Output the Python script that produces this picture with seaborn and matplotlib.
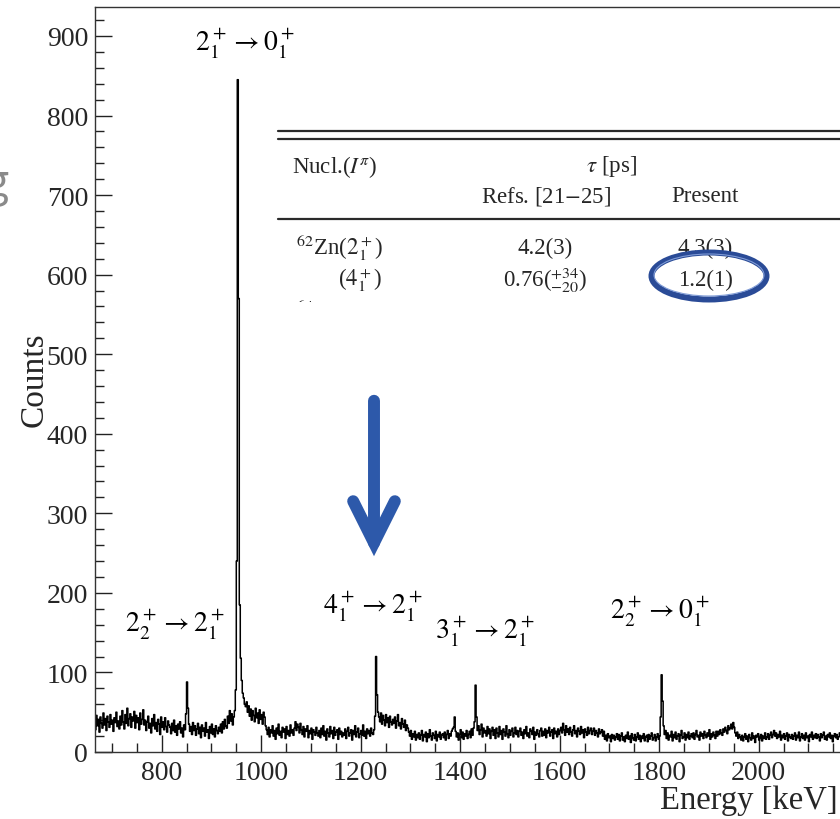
import numpy as np
import pandas as pd
import matplotlib
matplotlib.use("Agg")
import matplotlib.pyplot as plt
import seaborn as sns
from matplotlib.patches import Rectangle, Ellipse, FancyArrowPatch
from matplotlib.lines import Line2D
from matplotlib.ticker import MultipleLocator
from matplotlib.transforms import Bbox, TransformedBbox

# ---------------- data ----------------
bin_width_keV = 2
first_bin_center = 667
# counts per 2 keV bin, one row = 50 keV (25 bins), starting at 666 keV
counts = [
    28, 46, 33, 41, 25, 44, 36, 30, 49, 34, 42, 27, 45, 38, 31, 47, 35, 40, 26, 43, 37, 50, 32, 39, 29,
    45, 34, 52, 38, 29, 47, 36, 55, 33, 42, 48, 31, 44, 39, 51, 30, 46, 37, 43, 28, 49, 35, 41, 53, 34,
    40, 27, 38, 45, 30, 36, 24, 42, 33, 47, 29, 37, 26, 41, 35, 22, 44, 31, 38, 28, 43, 32, 25, 39, 34,
    31, 23, 36, 27, 40, 25, 33, 21, 35, 29, 38, 24, 30, 19, 34, 28, 48, 88, 55, 35, 26, 32, 22, 37, 27,
    33, 21, 29, 36, 23, 31, 18, 34, 26, 30, 20, 37, 25, 28, 17, 32, 24, 35, 22, 29, 19, 33, 27, 23, 31,
    26, 35, 24, 38, 29, 41, 33, 30, 45, 36, 52, 39, 48, 34, 44, 52, 78, 240, 845, 570, 185, 118, 90, 74, 68,
    60, 57, 63, 50, 58, 45, 54, 40, 52, 46, 38, 55, 43, 49, 36, 53, 41, 47, 35, 50, 44, 33, 28, 22, 31,
    19, 28, 24, 33, 20, 27, 16, 30, 23, 35, 21, 26, 18, 31, 25, 29, 17, 32, 22, 27, 20, 34, 24, 28, 21,
    30, 38, 27, 35, 31, 24, 36, 28, 22, 32, 19, 29, 26, 33, 18, 27, 23, 30, 16, 28, 25, 21, 31, 24, 20,
    27, 18, 30, 22, 33, 20, 26, 15, 29, 24, 19, 32, 23, 27, 17, 31, 21, 25, 28, 16, 30, 22, 26, 19, 24,
    21, 29, 17, 26, 31, 20, 24, 28, 15, 27, 22, 33, 19, 25, 30, 18, 23, 27, 21, 34, 20, 26, 17, 29, 23,
    27, 20, 30, 24, 22, 28, 45, 120, 72, 50, 44, 38, 49, 35, 46, 40, 33, 47, 37, 43, 31, 45, 38, 34, 41,
    36, 44, 30, 39, 47, 33, 37, 29, 42, 35, 31, 40, 27, 34, 30, 25, 20, 27, 16, 23, 19, 26, 15, 22, 18,
    24, 16, 21, 27, 14, 22, 19, 25, 13, 23, 18, 28, 20, 15, 24, 21, 17, 26, 14, 22, 19, 25, 16, 21, 23,
    18, 25, 15, 22, 27, 17, 23, 20, 26, 29, 31, 44, 26, 19, 24, 15, 22, 28, 18, 25, 16, 23, 20, 27, 17,
    22, 26, 18, 29, 21, 30, 38, 84, 44, 27, 33, 22, 28, 35, 19, 30, 24, 27, 20, 32, 23, 29, 17, 26, 31,
    21, 28, 17, 30, 24, 19, 32, 22, 27, 16, 29, 25, 20, 33, 23, 18, 28, 21, 26, 30, 19, 24, 31, 22, 27,
    19, 26, 30, 21, 25, 17, 28, 23, 32, 20, 24, 18, 29, 26, 22, 31, 16, 25, 21, 28, 23, 19, 27, 30, 20,
    26, 21, 29, 18, 27, 24, 31, 20, 25, 28, 17, 30, 23, 26, 19, 29, 22, 27, 31, 24, 36, 28, 21, 33, 25,
    29, 22, 31, 25, 20, 28, 33, 23, 27, 19, 30, 26, 22, 32, 24, 28, 18, 29, 25, 21, 31, 23, 27, 30, 22,
    26, 30, 21, 27, 24, 19, 29, 23, 25, 28, 20, 26, 16, 21, 14, 23, 18, 20, 13, 22, 17, 21, 15, 19, 23,
    16, 22, 14, 20, 24, 15, 19, 13, 21, 17, 25, 16, 20, 12, 23, 18, 15, 22, 14, 19, 24, 16, 21, 13, 20,
    17, 23, 14, 19, 21, 13, 22, 16, 20, 24, 15, 18, 22, 14, 19, 23, 16, 20, 44, 97, 64, 33, 22, 27, 17,
    24, 15, 21, 19, 26, 14, 22, 18, 25, 16, 20, 23, 13, 21, 27, 17, 19, 24, 15, 22, 18, 25, 16, 20, 23,
    18, 24, 16, 22, 27, 19, 21, 15, 25, 20, 23, 17, 26, 21, 18, 24, 20, 28, 16, 23, 19, 25, 21, 17, 26,
    20, 26, 22, 28, 24, 21, 29, 25, 31, 27, 23, 33, 28, 30, 35, 29, 37, 31, 24, 20, 25, 17, 22, 19, 15,
    21, 14, 19, 23, 16, 20, 13, 22, 18, 15, 24, 17, 20, 12, 21, 19, 23, 15, 18, 22, 14, 20, 17, 24, 16,
    19, 23, 16, 21, 25, 18, 22, 27, 20, 24, 17, 22, 19, 26, 15, 21, 18, 23, 16, 20, 24, 14, 22, 19, 17,
    22, 16, 20, 24, 15, 21, 18, 25, 14, 19, 23, 17, 21, 15, 24, 18, 20, 13, 22, 19, 25, 16, 21, 18, 23,
    17, 22, 19, 14, 23, 18, 21, 25, 16, 20, 15, 22, 19, 24, 17, 21, 13, 20, 23, 18, 22, 16, 19, 24, 20,
    18, 23, 15, 21, 19, 24, 16, 20, 22, 14, 21, 18, 25, 17, 20, 23, 15, 19, 22, 18, 24, 16, 21, 19, 22,
]
energy_keV = first_bin_center + bin_width_keV * np.arange(len(counts))

x_ticks = [800, 1000, 1200, 1400, 1600, 1800, 2000]
y_ticks = [0, 100, 200, 300, 400, 500, 600, 700, 800, 900]

transition_labels = [r"$2_1^+\rightarrow 0_1^+$", r"$2_2^+\rightarrow 2_1^+$",
                     r"$4_1^+\rightarrow 2_1^+$", r"$3_1^+\rightarrow 2_1^+$",
                     r"$2_2^+\rightarrow 0_1^+$"]
label_E = [967, 827, 1225, 1449, 1801]
label_y = [891, 161, 184, 152, 177]

table_header1 = [r"Nucl.($I^{\pi}$)", r"$\tau$ [ps]"]
table_header2 = ["Refs. [21$-$25]", "Present"]
table_nucl = [r"$^{62}$Zn($2_1^+$)", r"($4_1^+$)"]
table_refs = ["4.2(3)", r"0.76($^{+34}_{-20}$)"]
table_present = ["4.3(3)", "1.2(1)"]

df = pd.DataFrame({"energy": energy_keV, "counts": counts})

# ---------------- figure ----------------
sns.set_theme(style="white")
plt.rcParams["font.family"] = ["Liberation Serif", "DejaVu Serif"]
plt.rcParams["mathtext.fontset"] = "stix"

W, H = 840, 820
fig = plt.figure(figsize=(W / 100, H / 100), dpi=100)
fig.patch.set_facecolor("white")

def fx(px):
    return px / W

def fy(py):
    return 1 - py / H

ax_left, ax_right, ax_top, ax_bot = 95, 841, 7.5, 753
ax = fig.add_axes([fx(ax_left), fy(ax_bot), fx(ax_right - ax_left), (ax_bot - ax_top) / H])
ax.set_facecolor("white")

lo = first_bin_center - bin_width_keV / 2
hi = energy_keV[-1] + bin_width_keV / 2
sns.histplot(data=df, x="energy", weights="counts", binwidth=bin_width_keV, binrange=(lo, hi),
             element="step", fill=False, color="black", linewidth=1.1, ax=ax)

xmin = 666
ax.set_xlim(xmin, xmin + (ax_right - ax_left) / 0.4975)
ax.set_ylim(0, 937)
ax.set_xlabel("")
ax.set_ylabel("")
ax.set_xticks(x_ticks)
ax.set_yticks(y_ticks)
ax.xaxis.set_minor_locator(MultipleLocator(50))
ax.yaxis.set_minor_locator(MultipleLocator(20))
ax.tick_params(which="major", direction="in", length=12, width=1, color="#222222",
               labelsize=20, bottom=True, left=True)
ax.tick_params(which="minor", direction="in", length=6.5, width=1, color="#222222",
               bottom=True, left=True)
ax.tick_params(axis="y", pad=5)
ax.tick_params(axis="x", pad=6)
for s in ax.spines.values():
    s.set_color("#333333")
    s.set_linewidth(1)

for lab, e, yv in zip(transition_labels, label_E, label_y):
    ax.text(e, yv, lab, ha="center", va="center", fontsize=20, color="black")

fig.text(fx(34), fy(380), "Counts", rotation=90, ha="center", va="center", fontsize=24)
fig.text(fx(838), fy(809), "Energy [keV]", ha="right", va="baseline", fontsize=23.5)

# partial letter from the slide background
fig.text(fx(-16), fy(196), "g", fontsize=32, color="#8a8a8a", family="Open Sans",
         ha="left", va="baseline")

# ---------------- inset table ----------------
tbl_top, tbl_bot, tbl_left = 125, 303, 278
rect = Rectangle((fx(tbl_left), fy(tbl_bot)), fx(W + 5 - tbl_left), (tbl_bot - tbl_top) / H,
                 transform=fig.transFigure, facecolor="white", edgecolor="none", zorder=5)
fig.add_artist(rect)
for py, lw in [(131.5, 1.6), (139.5, 1.6), (220, 1.6)]:
    fig.add_artist(Line2D([fx(tbl_left), fx(W + 5)], [fy(py), fy(py)], transform=fig.transFigure,
                          color="#2a2a2a", linewidth=lw, zorder=6))

tfs = 16.5
fig.text(fx(292), fy(167), table_header1[0], ha="left", va="center", fontsize=tfs, zorder=7)
fig.text(fx(611), fy(167), table_header1[1], ha="center", va="center", fontsize=tfs, zorder=7)
fig.text(fx(546), fy(197), table_header2[0], ha="center", va="center", fontsize=tfs, zorder=7)
fig.text(fx(705), fy(197), table_header2[1], ha="center", va="center", fontsize=tfs, zorder=7)
for i, py in enumerate([248, 280]):
    fig.text(fx(383), fy(py), table_nucl[i], ha="right", va="center", fontsize=tfs, zorder=7)
    fig.text(fx(545), fy(py), table_refs[i], ha="center", va="center", fontsize=tfs, zorder=7)
    fig.text(fx(705), fy(py), table_present[i], ha="center", va="center", fontsize=tfs, zorder=7)
clip = TransformedBbox(Bbox([[fx(tbl_left), fy(tbl_bot)], [1, fy(tbl_top)]]), fig.transFigure)
t3 = fig.text(fx(383), fy(313), r"$^{64}$Zn($2_1^+$)", ha="right", va="center", fontsize=tfs, zorder=7)
t3.set_clip_box(clip)
t3.set_clip_on(True)

ell = Ellipse((fx(709), fy(277)), fx(115), 47 / H, transform=fig.transFigure,
              facecolor="none", edgecolor="#2a4b97", linewidth=4.3, zorder=8)
fig.add_artist(ell)
ell2 = Ellipse((fx(709), fy(276)), fx(110), 42 / H, transform=fig.transFigure,
               facecolor="none", edgecolor="#7f9bd6", linewidth=0.8, zorder=9)
fig.add_artist(ell2)

# ---------------- blue arrow ----------------
arrow = FancyArrowPatch((fx(374), fy(399)), (fx(374), fy(560)), transform=fig.transFigure,
                        arrowstyle="->,head_length=30,head_width=15", mutation_scale=1,
                        color="#2d59aa", linewidth=8.6, capstyle="round", joinstyle="miter",
                        zorder=10)
fig.add_artist(arrow)

fig.savefig("out.png", dpi=100, facecolor="white")
